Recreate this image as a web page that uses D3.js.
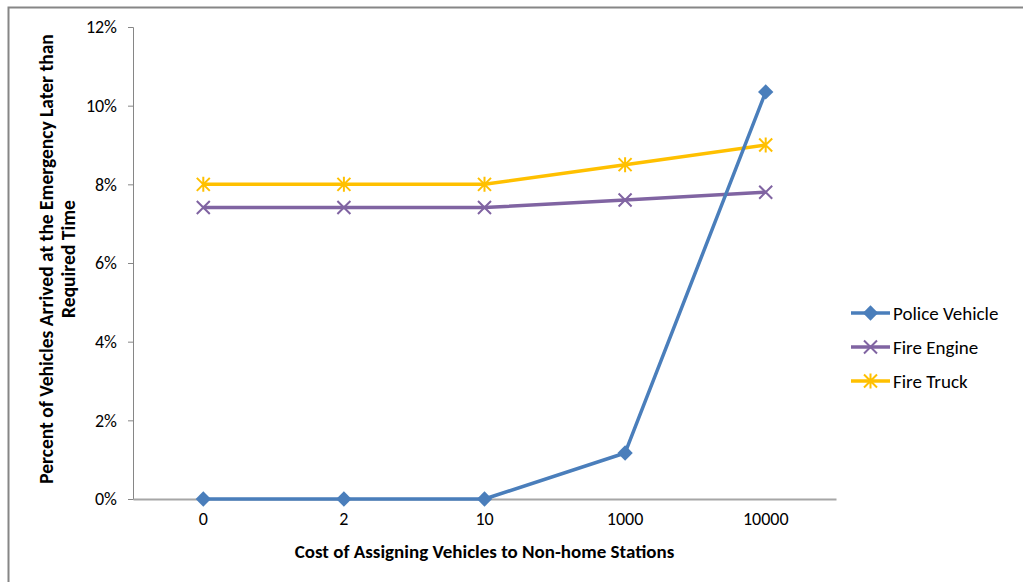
<!DOCTYPE html>
<html>
<head>
<meta charset="utf-8">
<script src="https://cdn.jsdelivr.net/npm/d3@7"></script>
<style>
  html, body { margin: 0; padding: 0; background: #fff; }
  svg { display: block; }
  text { font-family: Carlito, Calibri, Lato, "Open Sans", sans-serif; fill: #000; }
</style>
</head>
<body>
<svg id="chart" width="1023" height="582"></svg>
<script>
// Cost levels and late-arrival shares per vehicle type
const costs = ["0", "2", "10", "1000", "10000"];
const policeVehicle = [0.0, 0.0, 0.0, 1.17, 10.35];
const fireEngine = [7.41, 7.41, 7.41, 7.6, 7.8];
const fireTruck = [8.0, 8.0, 8.0, 8.5, 9.0];
const yTicks = [0, 2, 4, 6, 8, 10, 12];

const series = [
  { name: "Police Vehicle", values: policeVehicle, color: "#4A7EBB", marker: "diamond" },
  { name: "Fire Engine", values: fireEngine, color: "#8064A2", marker: "cross" },
  { name: "Fire Truck", values: fireTruck, color: "#FFC000", marker: "star" }
];

const svg = d3.select("#chart");

// outer frame
svg.append("rect")
  .attr("x", 8.5).attr("y", 7.5)
  .attr("width", 1030).attr("height", 600)
  .attr("fill", "none").attr("stroke", "#868686").attr("stroke-width", 2);

const plot = { left: 133, right: 836, top: 27, bottom: 499 };

const x = d3.scaleBand().domain(costs).range([plot.left, plot.right]);
const y = d3.scaleLinear().domain([0, 12]).range([plot.bottom, plot.top]);
const cx = c => x(c) + x.bandwidth() / 2;

// y axis
const yAxis = svg.append("g")
  .attr("transform", `translate(${plot.left},0)`)
  .call(d3.axisLeft(y).tickValues(yTicks).tickFormat(d => d + "%").tickSize(5).tickPadding(11));
yAxis.select(".domain").attr("stroke", "#868686").attr("stroke-width", 1);
yAxis.selectAll(".tick line").attr("stroke", "#868686");
yAxis.selectAll(".tick text").style("font-size", "18px").attr("fill", "#000");

// x axis
const xAxis = svg.append("g")
  .attr("transform", `translate(0,${plot.bottom})`)
  .call(d3.axisBottom(x).tickSize(0).tickPadding(13));
xAxis.select(".domain").attr("stroke", "#A6A6A6").attr("stroke-width", 2);
xAxis.selectAll(".tick text").style("font-size", "18px").attr("fill", "#000");

// axis titles
svg.append("text")
  .attr("x", (plot.left + plot.right) / 2).attr("y", 558)
  .attr("text-anchor", "middle")
  .style("font-size", "19px").style("font-weight", "bold")
  .text("Cost of Assigning Vehicles to Non-home Stations");

const yTitle = svg.append("text")
  .attr("transform", "translate(53,259) rotate(-90)")
  .attr("text-anchor", "middle")
  .style("font-size", "19.5px").style("font-weight", "bold");
yTitle.append("tspan").attr("x", 0).attr("dy", 0)
  .text("Percent of Vehicles Arrived at the Emergency Later than");
yTitle.append("tspan").attr("x", 0).attr("dy", 22).text("Required Time");

// marker shapes
function drawMarker(g, type, color, px, py) {
  if (type === "diamond") {
    g.append("path")
      .attr("d", d3.symbol().type(d3.symbolDiamond2).size(150)())
      .attr("transform", `translate(${px},${py})`)
      .attr("fill", color);
  } else if (type === "cross") {
    const s = 6.5;
    g.append("path")
      .attr("d", `M${px - s},${py - s}L${px + s},${py + s}M${px - s},${py + s}L${px + s},${py - s}`)
      .attr("stroke", color).attr("stroke-width", 2).attr("fill", "none");
  } else {
    const s = 6.5;
    g.append("path")
      .attr("d", `M${px - s},${py - s}L${px + s},${py + s}M${px - s},${py + s}L${px + s},${py - s}M${px},${py - s - 1}L${px},${py + s + 1}`)
      .attr("stroke", color).attr("stroke-width", 2).attr("fill", "none");
  }
}

const line = d3.line().x((d, i) => cx(costs[i])).y(d => y(d));

// draw in reverse so the police line sits on top
[...series].reverse().forEach(s => {
  const g = svg.append("g");
  g.append("path")
    .datum(s.values)
    .attr("d", line)
    .attr("fill", "none")
    .attr("stroke", s.color)
    .attr("stroke-width", 3.5)
    .attr("stroke-linejoin", "round");
  s.values.forEach((v, i) => drawMarker(g, s.marker, s.color, cx(costs[i]), y(v)));
});

// legend
const legend = svg.append("g");
series.forEach((s, i) => {
  const ly = 313 + i * 34;
  legend.append("line")
    .attr("x1", 851).attr("x2", 890).attr("y1", ly).attr("y2", ly)
    .attr("stroke", s.color).attr("stroke-width", 3.5);
  drawMarker(legend, s.marker, s.color, 870.5, ly);
  legend.append("text")
    .attr("x", 893).attr("y", ly).attr("dy", "0.35em")
    .style("font-size", "19px")
    .text(s.name);
});
</script>
</body>
</html>
